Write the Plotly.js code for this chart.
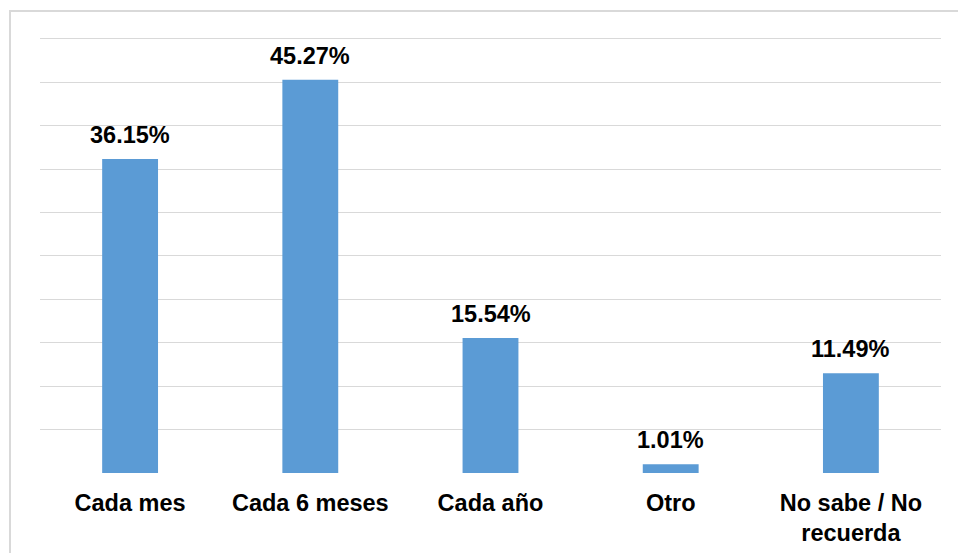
<!DOCTYPE html>
<html>
<head>
<meta charset="utf-8">
<script src="https://cdn.plot.ly/plotly-3.0.1.min.js"></script>
<style>
html,body{margin:0;padding:0;background:#fff;}
#chart{width:958px;height:553px;}
</style>
</head>
<body>
<div id="chart"></div>
<script>
var categories = ["Cada mes", "Cada 6 meses", "Cada año", "Otro", "No sabe / No<br>recuerda"];
var values = [36.15, 45.27, 15.54, 1.01, 11.49];
var valueLabels = ["36.15%", "45.27%", "15.54%", "1.01%", "11.49%"];

var FONT = "Liberation Sans, Arial, sans-serif";

var trace = {
  type: "bar",
  x: categories,
  y: values,
  marker: {color: "#5B9BD5"},
  hoverinfo: "x+y"
};

var annotations = categories.map(function (c, i) {
  return {
    x: c, y: values[i], xref: "x", yref: "y",
    text: "<b>" + valueLabels[i] + "</b>",
    showarrow: false, yanchor: "bottom", yshift: 9,
    font: {family: FONT, size: 23.5, color: "#000"}
  };
});

var layout = {
  width: 958, height: 553,
  margin: {l: 40, r: 17, t: 37, b: 80},
  paper_bgcolor: "#fff", plot_bgcolor: "#fff",
  showlegend: false,
  bargap: 0.69,
  font: {family: FONT, color: "#000"},
  xaxis: {
    type: "category",
    showgrid: false, zeroline: false, showline: false,
    ticks: "", ticklabelstandoff: 13,
    tickfont: {family: FONT, size: 23.5, color: "#000", weight: "bold"}
  },
  yaxis: {
    range: [0, 50.2], dtick: 5, tick0: 0,
    showgrid: true, gridcolor: "#D9D9D9", gridwidth: 1,
    zeroline: false, showline: false, showticklabels: false, ticks: ""
  },
  annotations: annotations,
  shapes: [{
    type: "rect", xref: "paper", yref: "paper",
    x0: -0.0333, x1: 1.05, y0: -0.3, y1: 1.0596,
    line: {color: "#D9D9D9", width: 2}, fillcolor: "rgba(0,0,0,0)", layer: "below"
  }]
};

Plotly.newPlot("chart", [trace], layout, {displayModeBar: false, staticPlot: true});
</script>
</body>
</html>
